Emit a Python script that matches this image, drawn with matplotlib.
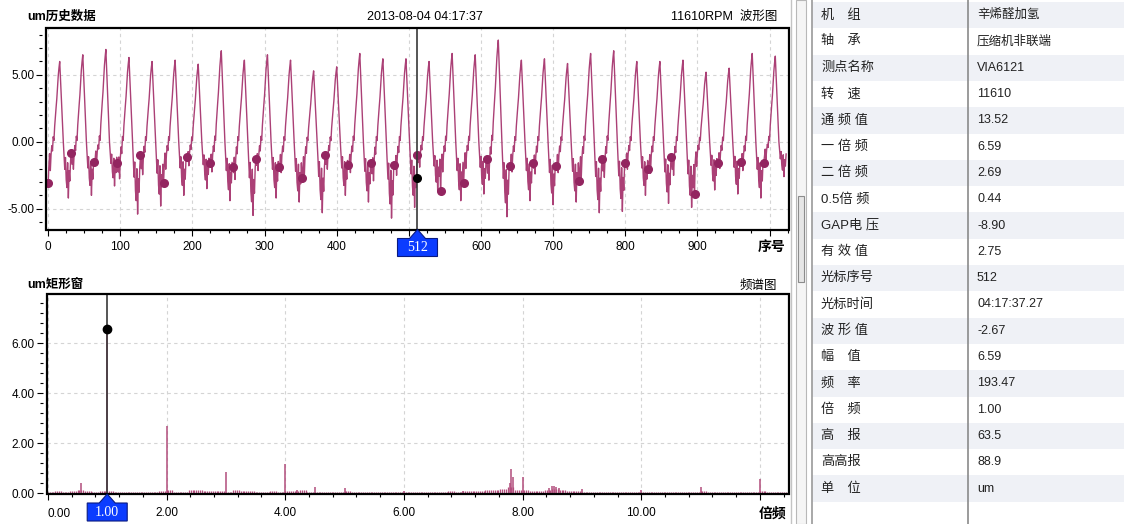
import matplotlib
matplotlib.use("Agg")
import matplotlib.pyplot as plt
import matplotlib.transforms as mtransforms
from matplotlib.patches import Polygon, Rectangle
from matplotlib.ticker import MultipleLocator
import numpy as np

plt.rcParams["font.family"] = ["Liberation Sans", "Noto Sans CJK SC", "DejaVu Sans"]

# waveform: one period (32 samples, starting at the key-phase dot)
cycle_shape = [-1.0, -1.8, -0.9, -2.2, -1.0, -0.3, -0.7, 0.4, 0.1, 1.2, 2.0, 2.7, 3.4, 4.3, 5.2, 5.8,
               6.3, 5.0, 3.6, 2.5, 1.1, 0.0, -1.0, -2.1, -1.2, -2.9, -3.5, -1.6, -4.3, -2.2, -3.0, -1.5]
cycle_peaks = [6.0, 6.5, 6.9, 6.3, 6.0, 6.1, 5.8, 6.8, 6.1, 6.5, 6.1, 5.3, 5.6, 6.6, 6.2, 6.2,
               6.0, 6.6, 6.5, 7.6, 6.1, 6.2, 5.85, 6.6, 6.8, 6.0, 6.0, 6.1, 5.2, 5.5, 6.6, 6.4]
cycle_dots = [-3.1, -0.8, -1.5, -1.6, -1.0, -3.1, -1.1, -1.6, -1.9, -1.3, -1.9, -2.7, -1.0, -1.7, -1.6, -1.7,
              -1.0, -3.7, -3.1, -1.25, -1.8, -1.55, -1.8, -2.9, -1.3, -1.6, -2.0, -1.1, -3.9, -1.55, -1.5, -1.55]
cycle_mins = [-4.2, -4.0, -3.3, -5.4, -4.8, -4.0, -3.5, -4.4, -5.5, -4.2, -4.5, -5.3, -4.0, -4.5, -5.7, -4.9,
              -3.7, -4.4, -3.9, -5.6, -4.4, -4.7, -4.5, -5.3, -5.2, -4.0, -4.6, -4.9, -3.6, -3.9, -4.2, -2.6]
cursor_index = 512
cursor_value = -2.67

# spectrum: noise floor every 0.125x, plus the visible lines
floor_levels = [0.06, 0.08, 0.05, 0.09, 0.12, 0.10, 0.07, 0.08,
                0.10, 0.05, 0.06, 0.04, 0.05, 0.07, 0.06, 0.09,
                0.12, 0.06, 0.05, 0.13, 0.12, 0.09, 0.10, 0.11,
                0.07, 0.12, 0.08, 0.09, 0.06, 0.07, 0.08, 0.05,
                0.09, 0.11, 0.13, 0.07, 0.06, 0.07, 0.05, 0.06,
                0.08, 0.06, 0.05, 0.07, 0.06, 0.05, 0.06, 0.04,
                0.07, 0.05, 0.06, 0.05, 0.04, 0.06, 0.08, 0.07,
                0.09, 0.10, 0.11, 0.12, 0.14, 0.18, 0.25, 0.15,
                0.12, 0.09, 0.11, 0.14, 0.16, 0.13, 0.10, 0.08,
                0.07, 0.06, 0.05, 0.06, 0.05, 0.04, 0.06, 0.05,
                0.06, 0.05, 0.04, 0.05, 0.06, 0.05, 0.05, 0.06,
                0.08, 0.06, 0.05, 0.06, 0.07, 0.05, 0.06, 0.05,
                0.09, 0.06, 0.05, 0.07]
peak_orders = [0.56, 1.00, 2.00, 3.00, 4.00, 4.19, 4.50, 5.00, 6.00, 7.00, 7.78, 7.81, 7.84, 8.00,
               8.44, 8.50, 8.53, 8.56, 8.62, 9.00, 10.00, 11.00, 12.00]
peak_amps = [0.42, 6.59, 2.69, 0.84, 1.17, 0.15, 0.24, 0.20, 0.10, 0.09, 0.40, 0.97, 0.66, 0.67,
             0.22, 0.30, 0.30, 0.27, 0.20, 0.17, 0.12, 0.27, 0.57]
cursor_order = 1.00
cursor_amp = 6.59

info_labels = ["机　组", "轴　承", "测点名称", "转　速", "通 频 值", "一 倍 频", "二 倍 频", "0.5倍 频",
               "GAP电 压", "有 效 值", "光标序号", "光标时间", "波 形 值", "幅　值", "频　率", "倍　频",
               "高　报", "高高报", "单　位"]
info_values = ["辛烯醛加氢", "压缩机非联端", "VIA6121", "11610", "13.52", "6.59", "2.69", "0.44",
               "-8.90", "2.75", "512", "04:17:37.27", "-2.67", "6.59", "193.47", "1.00",
               "63.5", "88.9", "um"]

WAVE_COLOR = "#ab4076"
DOT_COLOR = "#932560"
SPEC_COLOR = "#b24d7c"
CURSOR_COLOR = "#383838"
TAG_BLUE = "#0b3cff"

fig = plt.figure(figsize=(11.24, 5.24), dpi=100)


def px(x, y):
    return x / 1124, 1 - y / 524


def style_axes(ax, tick_fs=8.5):
    for spine in ax.spines.values():
        spine.set_visible(False)
    ax.spines["left"].set_position(("outward", 3))
    ax.add_patch(Rectangle((0, 0), 1, 1, transform=ax.transAxes, fill=False,
                           ec="black", lw=1.6, clip_on=False, zorder=4))
    ax.tick_params(axis="both", which="both", direction="out", width=0.8, colors="black",
                   labelsize=tick_fs)
    ax.tick_params(axis="both", which="major", length=4)
    ax.tick_params(axis="both", which="minor", length=2.5)
    ax.tick_params(axis="y", pad=1.5)
    ax.grid(True, which="major", color="#d4d4d4", lw=0.8, ls=(0, (3, 3)))
    ax.set_axisbelow(True)


def cursor_tag(ax, x, label):
    pos = ax.get_position()
    x0, x1 = ax.get_xlim()
    ux = (x1 - x0) / (pos.width * 1124)
    uy = 1 / (pos.height * 524)
    trans = mtransforms.blended_transform_factory(ax.transData, ax.transAxes)
    pts = [(x - 20 * ux, -27 * uy), (x - 20 * ux, -9 * uy), (x - 8 * ux, -9 * uy), (x, 0),
           (x + 8 * ux, -9 * uy), (x + 20 * ux, -9 * uy), (x + 20 * ux, -27 * uy)]
    ax.add_patch(Polygon(pts, closed=True, transform=trans, fc=TAG_BLUE, ec="#0a1a80",
                         lw=0.8, clip_on=False, zorder=6))
    ax.text(x, -18 * uy, label, transform=trans, ha="center", va="center", color="white",
            family="Liberation Serif", fontsize=10, clip_on=False, zorder=7)


# ---- waveform panel
shape = np.array(cycle_shape)
segments = []
for peak, dot, low in zip(cycle_peaks, cycle_dots, cycle_mins):
    seg = shape.copy()
    seg[seg > 0] *= peak / shape.max()
    seg[seg < 0] *= low / shape.min()
    seg[0] = dot
    segments.append(seg)
wave = np.concatenate(segments)
index = np.arange(len(wave))
dot_index = index[::len(cycle_shape)]

l0, r0 = px(46, 0)[0], px(789, 0)[0]
ax1 = fig.add_axes([l0, px(0, 229.5)[1], r0 - l0, (229.5 - 28.3) / 524])
ax1.plot(index, wave, color=WAVE_COLOR, lw=1.0, zorder=2)
ax1.plot(dot_index, cycle_dots, "o", color=DOT_COLOR, ms=5.5, zorder=3)
ax1.axvline(cursor_index, color=CURSOR_COLOR, lw=1.2, zorder=4)
ax1.plot([cursor_index], [cursor_value], "o", color="black", ms=5.5, zorder=5)
ax1.set_xlim(-3, 1027)
ax1.set_ylim(-6.55, 8.48)
xt = list(range(0, 1001, 100))
ax1.set_xticks(xt, labels=["" if v in (500, 1000) else str(v) for v in xt])
ax1.xaxis.set_minor_locator(MultipleLocator(25))
ax1.set_yticks([-5, 0, 5], labels=["-5.00", "0.00", "5.00"])
ax1.yaxis.set_minor_locator(MultipleLocator(1))
style_axes(ax1)
ax1.tick_params(axis="x", pad=4)
cursor_tag(ax1, cursor_index, str(cursor_index))

# ---- spectrum panel
ax2 = fig.add_axes([px(46.7, 0)[0], px(0, 494)[1], r0 - px(46.7, 0)[0], (494 - 294.3) / 524])
floor = np.repeat(floor_levels, 4)
floor_orders = np.arange(len(floor)) / 32
ax2.vlines(floor_orders, 0, floor, color=SPEC_COLOR, lw=0.9, zorder=2)
ax2.vlines(peak_orders, 0, peak_amps, color=SPEC_COLOR, lw=1.1, zorder=2)
ax2.axvline(cursor_order, color=CURSOR_COLOR, lw=1.2, zorder=4)
ax2.plot([cursor_order], [cursor_amp], "o", color="black", ms=6, zorder=5)
ax2.set_xlim(-0.02, 12.49)
ax2.set_ylim(-0.03, 7.96)
st = [0, 2, 4, 6, 8, 10, 12]
ax2.set_xticks(st, labels=["" if v in (0, 12) else f"{v:.2f}" for v in st])
ax2.xaxis.set_minor_locator(MultipleLocator(0.4))
ax2.set_yticks([0, 2, 4, 6], labels=["0.00", "2.00", "4.00", "6.00"])
ax2.yaxis.set_minor_locator(MultipleLocator(0.4))
style_axes(ax2)
ax2.tick_params(axis="x", pad=5.5)
trans2 = mtransforms.blended_transform_factory(ax2.transData, ax2.transAxes)
ax2.text(0.0, -0.068, "0.00", transform=trans2, ha="left", va="top", fontsize=8.5, clip_on=False)
cursor_tag(ax2, cursor_order, f"{cursor_order:.2f}")

# ---- panel titles
fig.text(*px(27, 17), "um历史数据", fontsize=9, fontweight="bold", va="center", ha="left")
fig.text(*px(425, 17), "2013-08-04 04:17:37", fontsize=9, va="center", ha="center")
fig.text(*px(777, 17), "11610RPM  波形图", fontsize=9, va="center", ha="right")
fig.text(*px(785, 247), "序号", fontsize=10, fontweight="bold", va="center", ha="right")
fig.text(*px(27, 285), "um矩形窗", fontsize=9, fontweight="bold", va="center", ha="left")
fig.text(*px(777, 286), "频谱图", fontsize=9, va="center", ha="right")
fig.text(*px(786, 514), "倍频", fontsize=10, fontweight="bold", va="center", ha="right")

# ---- info table on the right
side = fig.add_axes([0, 0, 1, 1])
side.set_xlim(0, 1124)
side.set_ylim(524, 0)
side.axis("off")
side.patch.set_visible(False)
side.plot([791, 791], [0, 524], color="#c4c4c4", lw=1)
side.add_patch(Rectangle((796, 0), 10, 524, fc="#f5f5f5", ec="#b8b8b8", lw=0.8))
side.add_patch(Rectangle((798, 196), 6, 86, fc="#e6e6e6", ec="#8c8c8c", lw=0.8))
row_h = 26.3
top = 2
for i, (label, value) in enumerate(zip(info_labels, info_values)):
    y0 = top + i * row_h
    if i % 2 == 0:
        side.add_patch(Rectangle((812, y0), 312, row_h, fc="#eff1f6", ec="none"))
    side.text(821, y0 + row_h / 2, label, fontsize=9.5, va="center", ha="left", color="#222222")
    side.text(977, y0 + row_h / 2, value, fontsize=9, va="center", ha="left", color="#222222")
side.plot([812, 812], [0, 524], color="#9a9a9a", lw=1.2)
side.plot([968, 968], [0, 524], color="#8a8a8a", lw=1.2)

fig.savefig("out.png", dpi=100)
